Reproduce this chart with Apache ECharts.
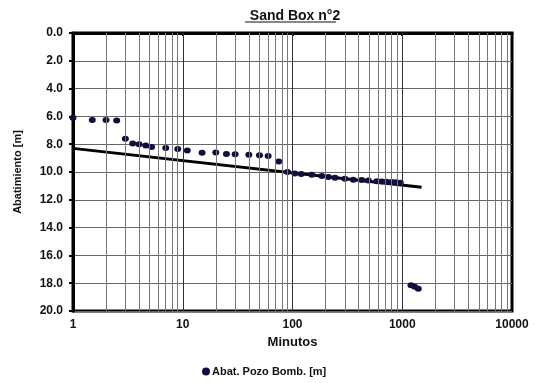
<!DOCTYPE html>
<html>
<head>
<meta charset="utf-8">
<script src="https://cdn.jsdelivr.net/npm/echarts@6/dist/echarts.min.js"></script>
<style>
html,body{margin:0;padding:0;background:#fff;}
#main{width:542px;height:383px;}
</style>
</head>
<body>
<div id="main"></div>
<script>
// datos medidos: minutos / abatimiento [m]
var minutos = [1, 1.5, 2, 2.5, 3, 3.5, 4, 4.6, 5.2, 7, 9, 11, 15, 20, 25, 30, 40, 50, 60, 75,
	90, 105, 120, 150, 185, 212, 244, 300, 358, 427, 490, 585, 650, 720, 800, 880, 960,
	1200, 1300, 1400];
var abatimiento = [6.1, 6.25, 6.25, 6.3, 7.6, 7.95, 8.0, 8.1, 8.2, 8.27, 8.35, 8.45, 8.62, 8.6, 8.7, 8.72, 8.75, 8.8, 8.85, 9.25,
	10.0, 10.1, 10.14, 10.2, 10.28, 10.36, 10.42, 10.48, 10.55, 10.58, 10.62, 10.66, 10.68, 10.7, 10.72, 10.74, 10.78,
	18.15, 18.25, 18.4];
// recta de ajuste
var rectaX = [1, 1500];
var rectaY = [8.3, 11.1];
var yTicks = [0, 20, 2];
var xRange = [1, 10000];

// lineas verticales menores (2..9 de cada decada)
var minorLines = [];
var decadeLines = [];
for (var d = 1; d < 10000; d *= 10) {
	for (var k = 2; k <= 9; k++) { minorLines.push({xAxis: d * k}); }
	if (d > 1) decadeLines.push({xAxis: d});
}

var puntos = minutos.map(function(m, i){ return [m, abatimiento[i]]; });
var recta = rectaX.map(function(m, i){ return [m, rectaY[i]]; });

var chart = echarts.init(document.getElementById('main'));
var lblFont = {color: '#111', fontWeight: 'bold', fontSize: 12, fontFamily: 'Liberation Sans, Arial, sans-serif'};
var option = {
	animation: false,
	title: {
		text: 'Sand Box n°2',
		left: 290, top: 4, textAlign: 'center',
		textStyle: {color: '#111', fontWeight: 'bold', fontSize: 14, fontFamily: 'Liberation Sans, Arial, sans-serif'}
	},
	graphic: [{
		type: 'line', shape: {x1: 245, y1: 22, x2: 336, y2: 22},
		style: {stroke: '#111', lineWidth: 1.2}
	}],
	grid: {left: 73, right: 30, top: 33, bottom: 72, show: true, borderColor: '#000', borderWidth: 3},
	legend: {
		bottom: 1, left: 197, itemWidth: 8, itemHeight: 8,
		textStyle: {color: '#111', fontWeight: 'bold', fontSize: 11, padding: [0, 0, 0, -3], fontFamily: 'Liberation Sans, Arial, sans-serif'},
		data: [{name: 'Abat. Pozo Bomb. [m]', icon: 'circle'}]
	},
	xAxis: {
		type: 'log', logBase: 10, min: xRange[0], max: xRange[1],
		name: 'Minutos', nameLocation: 'middle', nameGap: 24,
		nameTextStyle: {color: '#111', fontWeight: 'bold', fontSize: 13, fontFamily: 'Liberation Sans, Arial, sans-serif'},
		axisLine: {show: true, lineStyle: {color: '#000', width: 3}},
		axisTick: {show: true, length: 3, lineStyle: {color: '#000', width: 2}},
		axisLabel: Object.assign({margin: 8, formatter: function(v){ return String(v); }}, lblFont),
		splitLine: {show: false}
	},
	yAxis: {
		type: 'value', inverse: true, min: yTicks[0], max: yTicks[1], interval: yTicks[2],
		name: 'Abatimiento [m]', nameLocation: 'middle', nameGap: 50, nameRotate: 90,
		nameTextStyle: {color: '#111', fontWeight: 'bold', fontSize: 11, fontFamily: 'Liberation Sans, Arial, sans-serif'},
		axisLine: {show: true, lineStyle: {color: '#000', width: 3}},
		axisTick: {show: true, length: 4, lineStyle: {color: '#000', width: 2}},
		axisLabel: Object.assign({margin: 10, formatter: function(v){ return v.toFixed(1); }}, lblFont),
		splitLine: {show: true, lineStyle: {color: '#666', width: 1}}
	},
	series: [{
		name: 'grid-v', type: 'line', data: [], silent: true,
		markLine: {
			silent: true, symbol: 'none', label: {show: false}, animation: false,
			lineStyle: {type: 'solid', color: '#777', width: 1},
			data: minorLines
		}
	}, {
		name: 'grid-d', type: 'line', data: [], silent: true,
		markLine: {
			silent: true, symbol: 'none', label: {show: false}, animation: false,
			lineStyle: {type: 'solid', color: '#333', width: 1},
			data: decadeLines
		}
	}, {
		name: 'recta', type: 'line', data: recta, symbol: 'none', z: 3,
		lineStyle: {color: '#000', width: 3}
	}, {
		name: 'Abat. Pozo Bomb. [m]', type: 'scatter', data: puntos, z: 4,
		symbol: 'circle', symbolSize: [7, 6],
		itemStyle: {color: '#0f0f3d', opacity: 1}
	}]
};
chart.setOption(option);
</script>
</body>
</html>
